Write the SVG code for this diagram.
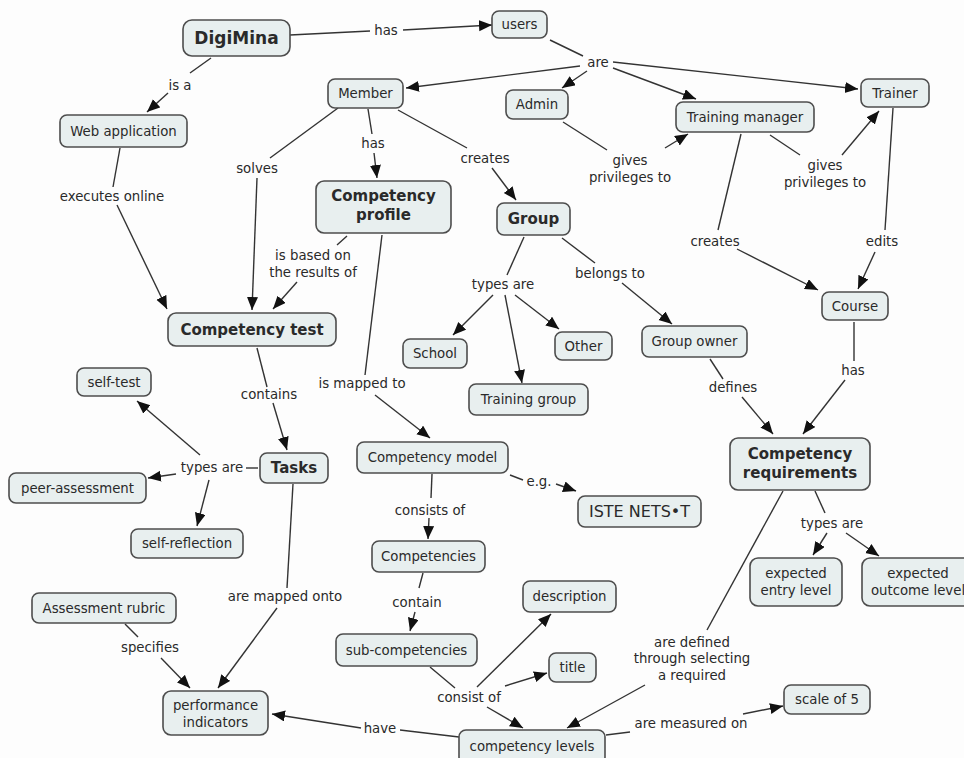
<svg xmlns="http://www.w3.org/2000/svg" width="964" height="758" viewBox="0 0 964 758">
<style>
.n rect{fill:#e8efef;stroke:#4d4d4d;stroke-width:1.6}
.n text{font-family:"DejaVu Sans",Verdana,sans-serif;font-size:13.3px;fill:#2a2a2a;text-anchor:middle;dominant-baseline:central}
.n text.b{font-weight:bold;font-size:15px}
.l{font-family:"DejaVu Sans",Verdana,sans-serif;font-size:13.3px;fill:#2a2a2a;text-anchor:middle;dominant-baseline:central}
#links path{fill:none;stroke:#333;stroke-width:1.4}
#links path.a{marker-end:url(#ah)}
</style>
<defs>
<marker id="ah" markerUnits="userSpaceOnUse" markerWidth="14" markerHeight="12" refX="13" refY="5.5" orient="auto">
<path d="M0,0 L13,5.5 L0,11 z" fill="#111"/>
</marker>
</defs>
<rect width="964" height="758" fill="#fdfdfd"/>

<g id="links">
<path d="M290,35 L370,31"/><path class="a" d="M403,30 L492,25"/>
<path d="M211,58 L190,73"/><path class="a" d="M168,93 L147,112"/>
<path d="M120,148 L113,187"/><path class="a" d="M117,205 L167,309"/>
<path d="M550,40 L583,56"/>
<path class="a" d="M580,66 L406,88"/>
<path class="a" d="M587,71 L562,88"/>
<path class="a" d="M613,62 L858,89"/>
<path class="a" d="M613,68 L696,99"/>
<path d="M338,108 L270,158"/><path class="a" d="M257,178 L252,310"/>
<path d="M368,109 L372,134"/><path class="a" d="M374,153 L377,178"/>
<path d="M398,110 L467,148"/><path class="a" d="M492,168 L516,200"/>
<path d="M563,122 L607,150"/><path class="a" d="M665,148 L688,134"/>
<path d="M770,135 L800,155"/><path class="a" d="M842,155 L879,111"/>
<path d="M741,134 L718,230"/><path class="a" d="M737,249 L818,290"/>
<path d="M893,108 L885,230"/><path class="a" d="M875,252 L858,289"/>
<path d="M347,236 L337,245"/><path class="a" d="M297,282 L273,309"/>
<path d="M382,235 L365,375"/><path class="a" d="M375,395 L430,438"/>
<path d="M524,237 L507,275"/>
<path class="a" d="M493,295 L453,335"/>
<path class="a" d="M515,295 L559,329"/>
<path class="a" d="M505,295 L522,383"/>
<path d="M562,238 L595,263"/><path class="a" d="M622,283 L672,324"/>
<path d="M710,359 L723,379"/><path class="a" d="M742,397 L773,434"/>
<path d="M854,322 L854,361"/><path class="a" d="M845,380 L803,434"/>
<path d="M257,348 L267,387"/><path class="a" d="M273,403 L287,450"/>
<path d="M258,468 L246,468"/>
<path class="a" d="M200,455 L137,401"/>
<path class="a" d="M176,474 L148,478"/>
<path class="a" d="M209,480 L197,526"/>
<path d="M293,484 L287,588"/><path class="a" d="M277,608 L218,688"/>
<path d="M125,624 L138,637"/><path class="a" d="M161,658 L190,688"/>
<path d="M510,475 L523,480"/><path class="a" d="M556,484 L576,491"/>
<path d="M432,474 L431,498"/><path class="a" d="M429,518 L428,539"/>
<path d="M423,573 L419,588"/><path class="a" d="M415,612 L410,631"/>
<path d="M430,667 L455,688"/>
<path class="a" d="M477,687 L551,614"/>
<path class="a" d="M505,686 L547,673"/>
<path class="a" d="M487,707 L523,728"/>
<path d="M783,491 L707,630"/><path class="a" d="M645,685 L567,728"/>
<path d="M815,491 L825,513"/>
<path class="a" d="M827,533 L813,555"/>
<path class="a" d="M846,533 L879,556"/>
<path d="M459,737 L400,730"/><path class="a" d="M361,728 L272,714"/>
<path d="M606,735 L630,732"/><path class="a" d="M743,714 L783,706"/>
</g>

<g id="labels">
<text class="l" x="386" y="30">has</text>
<text class="l" x="180" y="85">is a</text>
<text class="l" x="112" y="196">executes online</text>
<text class="l" x="598" y="62">are</text>
<text class="l" x="257" y="168">solves</text>
<text class="l" x="373" y="143">has</text>
<text class="l" x="485" y="158">creates</text>
<text class="l" x="630" y="160">gives</text>
<text class="l" x="630" y="177">privileges to</text>
<text class="l" x="825" y="165">gives</text>
<text class="l" x="825" y="182">privileges to</text>
<text class="l" x="715" y="241">creates</text>
<text class="l" x="882" y="241">edits</text>
<text class="l" x="313" y="255">is based on</text>
<text class="l" x="313" y="272">the results of</text>
<text class="l" x="503" y="284">types are</text>
<text class="l" x="610" y="273">belongs to</text>
<text class="l" x="362" y="383">is mapped to</text>
<text class="l" x="269" y="394">contains</text>
<text class="l" x="733" y="387">defines</text>
<text class="l" x="853" y="370">has</text>
<text class="l" x="212" y="467">types are</text>
<text class="l" x="539" y="481">e.g.</text>
<text class="l" x="430" y="510">consists of</text>
<text class="l" x="832" y="523">types are</text>
<text class="l" x="417" y="602">contain</text>
<text class="l" x="285" y="596">are mapped onto</text>
<text class="l" x="150" y="647">specifies</text>
<text class="l" x="469" y="697">consist of</text>
<text class="l" x="692" y="642">are defined</text>
<text class="l" x="692" y="658">through selecting</text>
<text class="l" x="692" y="675">a required</text>
<text class="l" x="380" y="728">have</text>
<text class="l" x="691" y="723">are measured on</text>
</g>

<g id="digimina" class="n"><rect x="183" y="20" width="107" height="36" rx="9"/><text class="b" x="236.5" y="38" style="font-size:17px">DigiMina</text></g>
<g id="users" class="n"><rect x="492" y="11" width="55" height="27" rx="7"/><text x="519.5" y="24.5">users</text></g>
<g id="member" class="n"><rect x="328" y="79" width="75" height="29" rx="7"/><text x="365.5" y="93.5">Member</text></g>
<g id="admin" class="n"><rect x="506" y="90" width="62" height="29" rx="7"/><text x="537" y="104.5">Admin</text></g>
<g id="training-manager" class="n"><rect x="676" y="102" width="138" height="30" rx="7"/><text x="745" y="117">Training manager</text></g>
<g id="trainer" class="n"><rect x="861" y="79" width="68" height="28" rx="7"/><text x="895" y="93">Trainer</text></g>
<g id="web-application" class="n"><rect x="60" y="115" width="127" height="32" rx="7"/><text x="123.5" y="131">Web application</text></g>
<g id="competency-profile" class="n"><rect x="316" y="181" width="135" height="52" rx="8"/><text class="b" x="383.5" y="196">Competency</text><text class="b" x="383.5" y="215">profile</text></g>
<g id="group" class="n"><rect x="497" y="203" width="73" height="32" rx="7"/><text class="b" x="533.5" y="219">Group</text></g>
<g id="competency-test" class="n"><rect x="168" y="313" width="168" height="33" rx="8"/><text class="b" x="252" y="329.5">Competency test</text></g>
<g id="school" class="n"><rect x="403" y="339" width="64" height="29" rx="7"/><text x="435" y="353.5">School</text></g>
<g id="other" class="n"><rect x="555" y="332" width="57" height="28" rx="7"/><text x="583.5" y="346">Other</text></g>
<g id="training-group" class="n"><rect x="469" y="384" width="119" height="31" rx="7"/><text x="528.5" y="399.5">Training group</text></g>
<g id="group-owner" class="n"><rect x="642" y="326" width="105" height="31" rx="7"/><text x="694.5" y="341.5">Group owner</text></g>
<g id="course" class="n"><rect x="822" y="292" width="66" height="28" rx="7"/><text x="855" y="306">Course</text></g>
<g id="self-test" class="n"><rect x="77" y="368" width="74" height="28" rx="7"/><text x="114" y="382">self-test</text></g>
<g id="tasks" class="n"><rect x="260" y="453" width="68" height="30" rx="7"/><text class="b" x="294" y="468">Tasks</text></g>
<g id="peer-assessment" class="n"><rect x="9" y="473" width="137" height="30" rx="7"/><text x="77.5" y="488">peer-assessment</text></g>
<g id="self-reflection" class="n"><rect x="131" y="529" width="112" height="29" rx="7"/><text x="187" y="543.5">self-reflection</text></g>
<g id="competency-model" class="n"><rect x="357" y="442" width="151" height="31" rx="7"/><text x="432.5" y="457.5">Competency model</text></g>
<g id="iste" class="n"><rect x="578" y="496" width="123" height="31" rx="7"/><text x="639.5" y="511.5" style="font-size:16px">ISTE NETS•T</text></g>
<g id="competency-requirements" class="n"><rect x="730" y="438" width="140" height="52" rx="8"/><text class="b" x="800" y="454">Competency</text><text class="b" x="800" y="473">requirements</text></g>
<g id="competencies" class="n"><rect x="372" y="541" width="113" height="31" rx="7"/><text x="428.5" y="556.5">Competencies</text></g>
<g id="expected-entry-level" class="n"><rect x="750" y="558" width="92" height="48" rx="8"/><text x="796" y="573">expected</text><text x="796" y="590">entry level</text></g>
<g id="expected-outcome-level" class="n"><rect x="862" y="558" width="112" height="48" rx="8"/><text x="918" y="573">expected</text><text x="918" y="590">outcome level</text></g>
<g id="assessment-rubric" class="n"><rect x="32" y="593" width="144" height="30" rx="7"/><text x="104" y="608">Assessment rubric</text></g>
<g id="performance-indicators" class="n"><rect x="163" y="691" width="105" height="44" rx="8"/><text x="215.5" y="705">performance</text><text x="215.5" y="722">indicators</text></g>
<g id="description" class="n"><rect x="523" y="581" width="93" height="31" rx="7"/><text x="569.5" y="596.5">description</text></g>
<g id="sub-competencies" class="n"><rect x="336" y="634" width="141" height="32" rx="7"/><text x="406.5" y="650">sub-competencies</text></g>
<g id="title" class="n"><rect x="549" y="653" width="47" height="29" rx="7"/><text x="572.5" y="667.5">title</text></g>
<g id="competency-levels" class="n"><rect x="459" y="730" width="146" height="34" rx="7"/><text x="532" y="746">competency levels</text></g>
<g id="scale-of-5" class="n"><rect x="784" y="685" width="86" height="29" rx="7"/><text x="827" y="699.5">scale of 5</text></g>
</svg>
